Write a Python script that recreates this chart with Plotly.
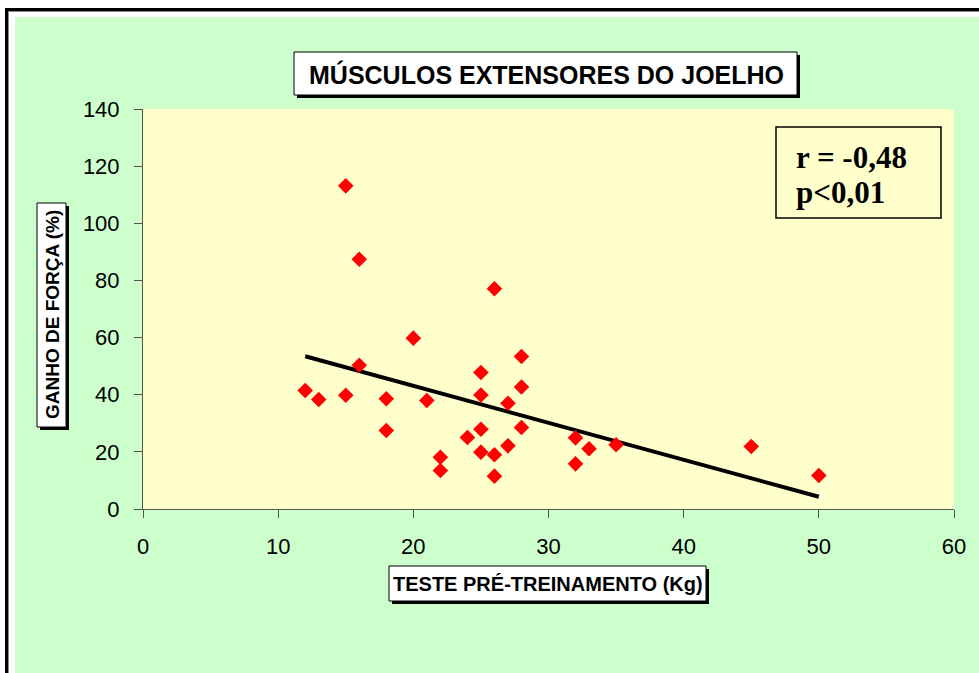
import numpy as np
import plotly.graph_objects as go

# ---------------- data ----------------
pre_test_kg = [12, 13, 15, 15, 16, 16, 18, 18, 20, 21, 22, 22, 24, 25, 25, 25, 25,
               26, 26, 26, 27, 27, 28, 28, 28, 32, 32, 33, 35, 45, 50]
strength_gain_pct = [41.5, 38.3, 113.1, 39.8, 87.4, 50.3, 38.6, 27.5, 59.8, 38.0, 18.1,
                     13.5, 25.0, 47.8, 39.9, 27.9, 19.9, 77.1, 19.0, 11.5, 37.0, 22.1,
                     53.4, 42.7, 28.5, 24.9, 15.8, 21.1, 22.5, 21.9, 11.7]
x_ticks = [0, 10, 20, 30, 40, 50, 60]
y_ticks = [0, 20, 40, 60, 80, 100, 120, 140]
chart_title = "MÚSCULOS EXTENSORES DO JOELHO"
x_title = "TESTE PRÉ-TREINAMENTO (Kg)"
y_title = "GANHO DE FORÇA (%)"
stats_lines = ["r = -0,48", "p<0,01"]

# ---------------- regression line ----------------
xa = np.array(pre_test_kg, dtype=float)
ya = np.array(strength_gain_pct, dtype=float)
slope, intercept = np.polyfit(xa, ya, 1)
trend_x = [xa.min(), xa.max()]
trend_y = [slope * v + intercept for v in trend_x]

# ---------------- geometry helpers (pixel -> paper) ----------------
W, H = 979, 673
L, T, PW, PH = 143, 109, 811, 400


def fx(px):
    return (px - L) / PW


def fy(py):
    return (T + PH - py) / PH


FONT = "Arial, 'Liberation Sans', sans-serif"
SERIF = "'Times New Roman', 'Liberation Serif', serif"
GREEN = "#CCFFCC"
YELLOW = "#FFFFCC"

fig = go.Figure()
fig.add_trace(go.Scatter(
    x=trend_x, y=trend_y, mode="lines",
    line=dict(color="black", width=4), hoverinfo="skip", showlegend=False))
fig.add_trace(go.Scatter(
    x=pre_test_kg, y=strength_gain_pct, mode="markers",
    marker=dict(symbol="diamond", size=12, color="#FF0000", line=dict(width=0)),
    showlegend=False))

shapes = []


def rect(x0, y0, x1, y1, fill, line_color=None, line_width=0, layer="above"):
    shapes.append(dict(
        type="rect", xref="paper", yref="paper",
        x0=fx(x0), x1=fx(x1), y0=fy(y1), y1=fy(y0),
        fillcolor=fill, layer=layer,
        line=dict(color=line_color or fill, width=line_width)))


# white outer margin and black frame lines
rect(0, 0, W, 17, "white")
rect(0, 0, 15, H, "white")
rect(5, 8, W, 11, "black")
rect(8, 11, W, 12, "#8c8c8c")
rect(5, 8, 8, H, "black")
rect(8, 11, 9, H, "#8c8c8c")


def shadow_box(x0, y0, x1, y1, off=3):
    rect(x0 + off, y0 + off, x1 + off, y1 + off, "black")
    rect(x0, y0, x1, y1, "white", "black", 1)


shadow_box(294, 52, 797, 95)     # chart title
shadow_box(389, 566, 706, 601)   # x-axis title
shadow_box(37, 203, 66, 427)     # y-axis title
rect(776, 127, 941, 218, YELLOW, "black", 1.5)  # stats box

annotations = [
    dict(text="<b>" + chart_title + "</b>", x=fx(546), y=fy(74), xref="paper", yref="paper",
         xanchor="center", yanchor="middle", showarrow=False,
         font=dict(family=FONT, size=25, color="black")),
    dict(text="<b>" + x_title + "</b>", x=fx(548), y=fy(584), xref="paper", yref="paper",
         xanchor="center", yanchor="middle", showarrow=False,
         font=dict(family=FONT, size=20, color="black")),
    dict(text="<b>" + y_title + "</b>", x=fx(52), y=fy(315), xref="paper", yref="paper",
         xanchor="center", yanchor="middle", showarrow=False, textangle=-90,
         font=dict(family=FONT, size=19, color="black")),
    dict(text="<b>" + stats_lines[0] + "</b>", x=fx(794), y=fy(157), xref="paper", yref="paper",
         xanchor="left", yanchor="middle", showarrow=False,
         font=dict(family=SERIF, size=31, color="black")),
    dict(text="<b>" + stats_lines[1] + "</b>", x=fx(794), y=fy(192), xref="paper", yref="paper",
         xanchor="left", yanchor="middle", showarrow=False,
         font=dict(family=SERIF, size=31, color="black")),
]

axis_common = dict(
    showgrid=False, zeroline=False, showline=True, linecolor="#555555", linewidth=1,
    ticks="outside", ticklen=8, tickcolor="#555555", tickwidth=1,
    tickfont=dict(family=FONT, size=22, color="black"),
)

fig.update_layout(
    width=W, height=H, autosize=False,
    margin=dict(l=L, r=W - L - PW, t=T, b=H - T - PH, pad=0),
    paper_bgcolor=GREEN, plot_bgcolor=YELLOW,
    showlegend=False,
    xaxis=dict(range=[0, 60], tickvals=x_ticks, ticklabelstandoff=10, **axis_common),
    yaxis=dict(range=[0, 140], tickvals=y_ticks, ticklabelstandoff=10, **axis_common),
    shapes=shapes,
    annotations=annotations,
)

fig.write_html(
    "out.html",
    config={"displayModeBar": False},
    post_script="document.body.style.margin='0';document.body.style.overflow='hidden';",
)
